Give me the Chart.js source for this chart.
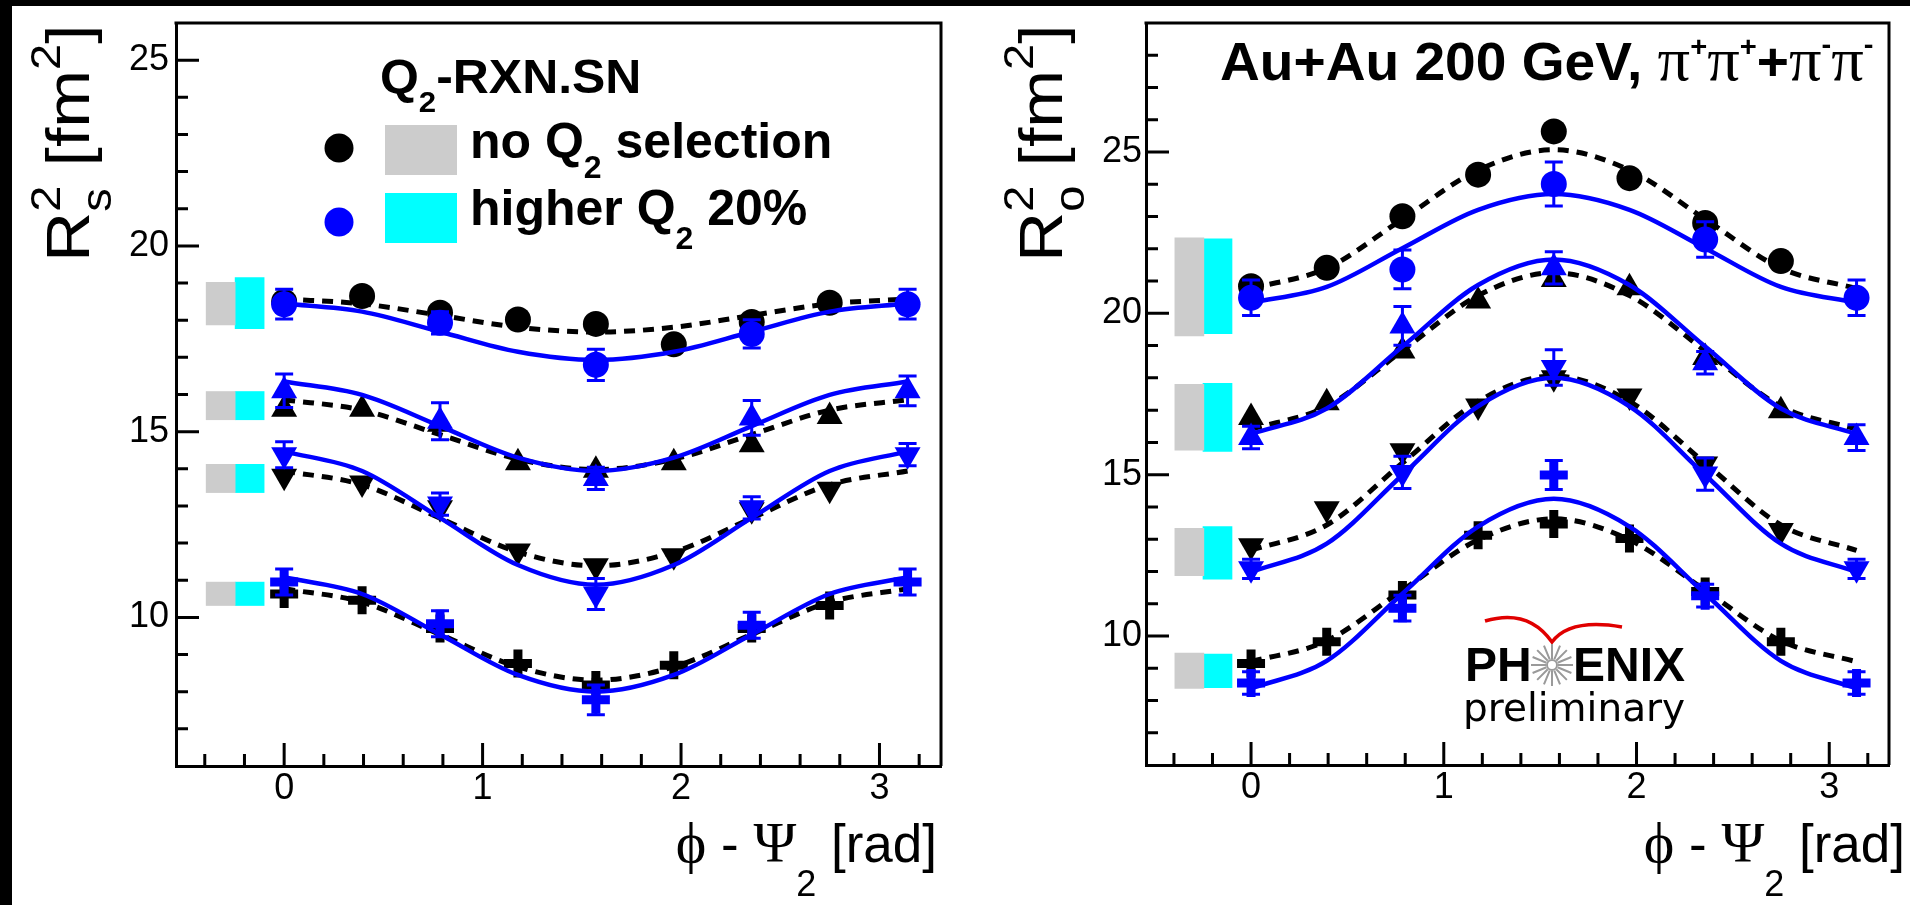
<!DOCTYPE html>
<html>
<head>
<meta charset="utf-8">
<title>R_s^2 and R_o^2 vs phi - Psi2</title>
<script src="https://cdn.jsdelivr.net/npm/chart.js@4.4.1/dist/chart.umd.min.js"></script>
<style>
  html, body { margin: 0; padding: 0; background: #fff; width: 1910px; height: 905px; overflow: hidden; }
  canvas { position: absolute; top: 0; }
  #rs { left: 0; }
  #ro { left: 1000px; }
  .band { position: absolute; background: #000; z-index: 5; }
</style>
</head>
<body>
<canvas id="rs" width="1000" height="905"></canvas>
<canvas id="ro" width="912" height="905"></canvas>
<div class="band" style="left:0;top:0;width:1910px;height:6px"></div>
<div class="band" style="left:0;top:0;width:12px;height:905px"></div>
<script>
// phi - Psi2 bins [rad]
const phiAll = [0, 0.3927, 0.7854, 1.1781, 1.5708, 1.9635, 2.3562, 2.7489, 3.1416];
const phiSel = [0, 0.7854, 1.5708, 2.3562, 3.1416];

const xMajor = [0, 1, 2, 3];
const xMinor = [-0.4, -0.2, 0.2, 0.4, 0.6, 0.8, 1.2, 1.4, 1.6, 1.8, 2.2, 2.4, 2.6, 2.8, 3.2];
const rsMajor = [10, 15, 20, 25];
const rsMinor = [7, 8, 9, 11, 12, 13, 14, 16, 17, 18, 19, 21, 22, 23, 24];
const roMajor = [10, 15, 20, 25];
const roMinor = [7, 8, 9, 11, 12, 13, 14, 16, 17, 18, 19, 21, 22, 23, 24, 26, 27, 28];

// systematic boxes sit left of phi = 0
const sysX = [-0.32, -0.174];

// R_s^2 [fm^2], rows: circle, up triangle, down triangle, cross
const rsNoQ = [
  [18.5, 18.65, 18.2, 18.02, 17.9, 17.35, 17.95, 18.47],
  [15.6, 15.6, 15.2, 14.16, 13.96, 14.16, 14.65, 15.41],
  [13.8, 13.62, 12.95, 11.79, 11.39, 11.66, 12.9, 13.45],
  [10.63, 10.46, 9.7, 8.76, 8.18, 8.71, 9.7, 10.32]
];
const rsHiQ = [
  [18.43, 17.93, 16.8, 17.63, 18.43],
  [16.1, 15.28, 13.74, 15.37, 16.1],
  [14.38, 13.05, 10.63, 12.95, 14.38],
  [10.95, 9.83, 7.78, 9.79, 10.95]
];
const rsHiQErr = [
  [0.4, 0.3, 0.42, 0.38, 0.4],
  [0.45, 0.5, 0.3, 0.47, 0.4],
  [0.35, 0.3, 0.42, 0.3, 0.3],
  [0.35, 0.35, 0.4, 0.35, 0.35]
];
const rsFitNoQ = [
  [18.57, 18.44, 18.13, 17.81, 17.68, 17.81, 18.13, 18.44, 18.57],
  [15.86, 15.58, 14.92, 14.26, 13.98, 14.26, 14.92, 15.58, 15.86],
  [13.94, 13.57, 12.67, 11.76, 11.39, 11.76, 12.67, 13.57, 13.94],
  [10.77, 10.41, 9.54, 8.67, 8.31, 8.67, 9.54, 10.41, 10.77]
];
const rsFitHiQ = [
  [18.45, 18.23, 17.69, 17.15, 16.93, 17.15, 17.69, 18.23, 18.45],
  [16.35, 15.99, 15.15, 14.3, 13.94, 14.3, 15.15, 15.99, 16.35],
  [14.47, 13.94, 12.68, 11.41, 10.88, 11.41, 12.68, 13.94, 14.47],
  [11.08, 10.63, 9.54, 8.45, 8.0, 8.45, 9.54, 10.63, 11.08]
];
const rsSysNoQ = [[17.87, 19.02], [15.32, 16.08], [13.36, 14.12], [10.32, 10.95]];
const rsSysHiQ = [[17.77, 19.15], [15.32, 16.08], [13.36, 14.12], [10.32, 10.95]];

// R_o^2 [fm^2]
const roNoQ = [
  [20.84, 21.41, 23.01, 24.3, 25.64, 24.19, 22.8, 21.62],
  [16.77, 17.23, 18.83, 20.38, 21.05, 20.79, 18.63, 16.98],
  [12.8, 13.94, 15.74, 17.13, 18.0, 17.44, 15.33, 13.27],
  [9.15, 9.82, 11.27, 13.12, 13.47, 13.02, 11.38, 9.82]
];
const roHiQ = [
  [20.48, 21.36, 24.01, 22.29, 20.48],
  [16.15, 19.61, 21.41, 18.47, 16.15],
  [12.08, 15.07, 18.32, 15.02, 12.08],
  [8.54, 10.86, 14.99, 11.25, 8.54]
];
const roHiQErr = [
  [0.55, 0.6, 0.68, 0.55, 0.55],
  [0.35, 0.6, 0.5, 0.35, 0.4],
  [0.3, 0.5, 0.55, 0.5, 0.3],
  [0.35, 0.4, 0.45, 0.35, 0.35]
];
const roFitNoQ = [
  [20.77, 21.4, 22.92, 24.44, 25.07, 24.44, 22.92, 21.4, 20.77],
  [16.41, 17.12, 18.84, 20.55, 21.26, 20.55, 18.84, 17.12, 16.41],
  [12.65, 13.44, 15.36, 17.27, 18.06, 17.27, 15.36, 13.44, 12.65],
  [9.2, 9.85, 11.42, 12.98, 13.63, 12.98, 11.42, 9.85, 9.2]
];
const roFitHiQ = [
  [20.33, 20.82, 22.02, 23.21, 23.7, 23.21, 22.02, 20.82, 20.33],
  [16.26, 17.05, 18.97, 20.88, 21.67, 20.88, 18.97, 17.05, 16.26],
  [11.98, 12.86, 14.99, 17.12, 18.0, 17.12, 14.99, 12.86, 11.98],
  [8.37, 9.23, 11.31, 13.39, 14.25, 13.39, 11.31, 9.23, 8.37]
];
const roSysNoQ = [[19.3, 22.34], [15.76, 17.8], [11.87, 13.34], [8.37, 9.47]];
const roSysHiQ = [[19.37, 22.31], [15.72, 17.83], [11.76, 13.39], [8.4, 9.44]];

const BLUE = '#0000ff';
const GREY = '#cccccc';
const CYAN = '#00ffff';
const SANS = 'Liberation Sans';
const SERIF = '"Liberation Serif", "DejaVu Serif", serif';

const markers = [
  {style: 'circle', rot: 0, r: 13, bw: 0},
  {style: 'triangle', rot: 0, r: 15, bw: 0},
  {style: 'triangle', rot: 180, r: 15, bw: 0},
  {style: 'cross', rot: 0, r: 14, bw: 9}
];

Chart.defaults.font.family = SANS;
Chart.defaults.color = '#000';

function pts(xs, ys) {
  return ys.map((y, i) => ({x: xs[i], y: y}));
}

function buildDatasets(noQ, hiQ, hiQErr, fitNoQ, fitHiQ, sysNoQ, sysHiQ) {
  const ds = [];
  for (let k = 0; k < 4; k++) {
    const m = markers[k];
    ds.push({type: 'line', data: pts(phiAll, fitNoQ[k]), borderColor: '#000', borderWidth: 5,
      borderDash: [11, 8], pointRadius: 0, cubicInterpolationMode: 'monotone', order: 4});
    ds.push({type: 'line', data: pts(phiAll, fitHiQ[k]), borderColor: BLUE, borderWidth: 4.5,
      pointRadius: 0, cubicInterpolationMode: 'monotone', order: 2});
    ds.push({type: 'line', data: pts(phiAll, noQ[k]), showLine: false, pointStyle: m.style,
      pointRotation: m.rot, pointRadius: m.r, pointBackgroundColor: '#000', pointBorderColor: '#000',
      pointBorderWidth: m.bw, order: 3});
    ds.push({type: 'line', data: pts(phiSel, hiQ[k]), yErr: hiQErr[k], showLine: false, pointStyle: m.style,
      pointRotation: m.rot, pointRadius: m.r, pointBackgroundColor: BLUE, pointBorderColor: BLUE,
      pointBorderWidth: m.bw, order: 1});
  }
  ds.push({type: 'bar', data: sysNoQ.map(r => ({x: sysX[0], y: r})), backgroundColor: GREY,
    borderWidth: 0, barThickness: 29, grouped: false, order: 5});
  ds.push({type: 'bar', data: sysHiQ.map(r => ({x: sysX[1], y: r})), backgroundColor: CYAN,
    borderWidth: 0, barThickness: 29, grouped: false, order: 5});
  return ds;
}

function makeScales(yMin, yMax, yMajor, yWidth, xHeight, yPad) {
  return {
    x: {
      type: 'linear', min: -0.545, max: 3.31, offset: false,
      grid: {display: false, drawTicks: false, offset: false},
      border: {display: true, width: 3, color: '#000'},
      ticks: {font: {size: 36}, color: '#000', padding: 1, autoSkip: false, maxRotation: 0,
        callback: v => String(v)},
      afterBuildTicks: s => { s.ticks = xMajor.map(v => ({value: v})); },
      afterFit: s => { s.height = xHeight; s.paddingLeft = 0; s.paddingRight = 0; }
    },
    y: {
      type: 'linear', min: yMin, max: yMax,
      grid: {display: false, drawTicks: false},
      border: {display: true, width: 3, color: '#000'},
      ticks: {font: {size: 36}, color: '#000', padding: yPad, autoSkip: false,
        callback: v => String(v)},
      afterBuildTicks: s => { s.ticks = yMajor.map(v => ({value: v})); },
      afterFit: s => { s.width = yWidth; s.paddingTop = 0; s.paddingBottom = 0; }
    }
  };
}

// vertical error bars with end caps
const errorBars = {
  id: 'errorBars',
  afterDatasetsDraw(chart) {
    const ctx = chart.ctx, xs = chart.scales.x, ys = chart.scales.y;
    ctx.save();
    chart.data.datasets.forEach(d => {
      if (!d.yErr) return;
      ctx.strokeStyle = d.pointBorderColor;
      ctx.lineWidth = 3;
      d.data.forEach((p, j) => {
        const x = xs.getPixelForValue(p.x);
        const y1 = ys.getPixelForValue(p.y + d.yErr[j]);
        const y2 = ys.getPixelForValue(p.y - d.yErr[j]);
        ctx.beginPath();
        ctx.moveTo(x, y1); ctx.lineTo(x, y2);
        ctx.moveTo(x - 9, y1); ctx.lineTo(x + 9, y1);
        ctx.moveTo(x - 9, y2); ctx.lineTo(x + 9, y2);
        ctx.stroke();
      });
    });
    ctx.restore();
  }
};

// top / right frame and inward ticks (root style)
function axisDecor(yMajor, yMinor) {
  return {
    id: 'axisDecor',
    afterDraw(chart) {
      const ctx = chart.ctx, a = chart.chartArea, x = chart.scales.x, y = chart.scales.y;
      ctx.save();
      ctx.strokeStyle = '#000';
      ctx.lineWidth = 3;
      ctx.beginPath();
      ctx.moveTo(a.left - 1.5, a.top); ctx.lineTo(a.right, a.top); ctx.lineTo(a.right, a.bottom);
      const xt = (v, len) => { const px = x.getPixelForValue(v); ctx.moveTo(px, a.bottom); ctx.lineTo(px, a.bottom - len); };
      const yt = (v, len) => { const py = y.getPixelForValue(v); ctx.moveTo(a.left, py); ctx.lineTo(a.left + len, py); };
      xMajor.forEach(v => xt(v, 23));
      xMinor.forEach(v => xt(v, 12));
      yMajor.forEach(v => yt(v, 23));
      yMinor.forEach(v => yt(v, 12));
      ctx.stroke();
      ctx.restore();
    }
  };
}

// text with sub/superscripts; parts drawn one after another
function rich(ctx, x, y, parts, opt) {
  opt = opt || {};
  ctx.save();
  ctx.translate(x, y);
  if (opt.rot) ctx.rotate(opt.rot);
  ctx.scale(opt.sx || 1, 1);
  ctx.textBaseline = 'alphabetic';
  ctx.textAlign = 'left';
  const widths = parts.map(p => { ctx.font = p.f; return ctx.measureText(p.t).width + (p.gap || 0); });
  let total = 0, stackW = 0;
  parts.forEach((p, i) => {
    if (p.stack) { stackW = widths[i]; } else { total += Math.max(widths[i], stackW); stackW = 0; }
  });
  let cx = opt.align === 'right' ? -total : 0;
  stackW = 0;
  parts.forEach((p, i) => {
    ctx.font = p.f;
    ctx.fillStyle = p.c || '#000';
    ctx.fillText(p.t, cx, p.dy || 0);
    if (p.stack) { stackW = widths[i]; } else { cx += Math.max(widths[i], stackW); stackW = 0; }
  });
  ctx.restore();
}

function yTitle(ctx, x, sub) {
  rich(ctx, x, 262, [
    {t: 'R', f: '62px ' + SANS},
    {t: '2', f: '42px ' + SANS, dy: -29, stack: true},
    {t: sub, f: '42px ' + SANS, dy: 22},
    {t: ' [fm', f: '62px ' + SANS},
    {t: '2', f: '42px ' + SANS, dy: -29},
    {t: ']', f: '62px ' + SANS}
  ], {rot: -Math.PI / 2, sx: 1.12});
}

function xTitle(ctx, xEnd) {
  rich(ctx, xEnd, 862, [
    {t: '\u03D5', f: '58px ' + SERIF},
    {t: ' - ', f: '53px ' + SANS},
    {t: '\u03A8', f: '58px ' + SERIF},
    {t: '2', f: '36px ' + SANS, dy: 34},
    {t: ' [rad]', f: '53px ' + SANS}
  ], {align: 'right'});
}

const leftText = {
  id: 'leftText',
  afterDraw(chart) {
    const ctx = chart.ctx;
    yTitle(ctx, 89, 's');
    xTitle(ctx, 937);
    const B = 'bold 50px ' + SANS;
    rich(ctx, 380, 93, [
      {t: 'Q', f: 'bold 48px ' + SANS},
      {t: '2', f: 'bold 30px ' + SANS, dy: 19},
      {t: '-RXN.SN', f: 'bold 48px ' + SANS}
    ], {sx: 1.04});
    ctx.save();
    ctx.fillStyle = '#000';
    ctx.beginPath(); ctx.arc(339, 148, 14.5, 0, Math.PI * 2); ctx.fill();
    ctx.fillStyle = BLUE;
    ctx.beginPath(); ctx.arc(339, 222, 14.5, 0, Math.PI * 2); ctx.fill();
    ctx.fillStyle = GREY; ctx.fillRect(385, 125, 72, 50);
    ctx.fillStyle = CYAN; ctx.fillRect(385, 193, 72, 50);
    ctx.restore();
    rich(ctx, 470, 158, [
      {t: 'no Q', f: B},
      {t: '2', f: 'bold 32px ' + SANS, dy: 20},
      {t: ' selection', f: B}
    ]);
    rich(ctx, 470, 225, [
      {t: 'higher Q', f: B},
      {t: '2', f: 'bold 32px ' + SANS, dy: 24},
      {t: ' 20%', f: B}
    ]);
  }
};

const rightText = {
  id: 'rightText',
  afterDraw(chart) {
    const ctx = chart.ctx;
    yTitle(ctx, 62, 'o');
    xTitle(ctx, 905);
    const T = 'bold 53px ' + SANS, P = '62px ' + SERIF, S = 'bold 28px ' + SANS;
    rich(ctx, 220, 80, [
      {t: 'Au+Au 200 GeV, ', f: T},
      {t: '\u03C0', f: P}, {t: '+', f: S, dy: -24},
      {t: '\u03C0', f: P}, {t: '+', f: S, dy: -24},
      {t: '+', f: T},
      {t: '\u03C0', f: P}, {t: '-', f: S, dy: -26},
      {t: '\u03C0', f: P}, {t: '-', f: S, dy: -26}
    ], {sx: 1.04});
    // PHENIX preliminary logo
    ctx.save();
    ctx.strokeStyle = '#e00000';
    ctx.lineWidth = 3.5;
    ctx.beginPath();
    ctx.moveTo(485, 621);
    ctx.quadraticCurveTo(528, 608, 552, 642);
    ctx.quadraticCurveTo(570, 618, 622, 627);
    ctx.stroke();
    ctx.strokeStyle = '#9a9a9a';
    ctx.lineWidth = 2;
    ctx.beginPath();
    for (let i = 0; i < 16; i++) {
      const t = i * Math.PI / 8;
      ctx.moveTo(552 + 6 * Math.cos(t), 665 + 6 * Math.sin(t));
      ctx.lineTo(552 + 21 * Math.cos(t), 665 + 21 * Math.sin(t));
    }
    ctx.stroke();
    ctx.beginPath(); ctx.arc(552, 665, 5, 0, Math.PI * 2); ctx.stroke();
    ctx.fillStyle = '#000';
    ctx.font = 'bold 48px ' + SANS;
    ctx.textBaseline = 'alphabetic';
    ctx.fillText('PH', 465, 681);
    ctx.fillText('ENIX', 573, 681);
    ctx.font = '39px "DejaVu Sans"';
    ctx.fillText('preliminary', 463, 721);
    ctx.restore();
  }
};

function makeChart(id, datasets, scales, padding, plugins) {
  return new Chart(document.getElementById(id), {
    type: 'line',
    data: {datasets: datasets},
    options: {
      responsive: false,
      animation: false,
      devicePixelRatio: 1,
      events: [],
      layout: {padding: padding},
      scales: scales,
      plugins: {legend: {display: false}, tooltip: {enabled: false}, title: {display: false}}
    },
    plugins: plugins
  });
}

makeChart('rs',
  buildDatasets(rsNoQ, rsHiQ, rsHiQErr, rsFitNoQ, rsFitHiQ, rsSysNoQ, rsSysHiQ),
  makeScales(6, 26, rsMajor, 176, 139, 7),
  {left: 0, top: 21, right: 59, bottom: 0},
  [errorBars, axisDecor(rsMajor, rsMinor), leftText]);

makeChart('ro',
  buildDatasets(roNoQ, roHiQ, roHiQErr, roFitNoQ, roFitHiQ, roSysNoQ, roSysHiQ),
  makeScales(6, 29, roMajor, 146, 140, 4),
  {left: 0, top: 21, right: 0, bottom: 0},
  [errorBars, axisDecor(roMajor, roMinor), rightText]);
</script>
</body>
</html>
